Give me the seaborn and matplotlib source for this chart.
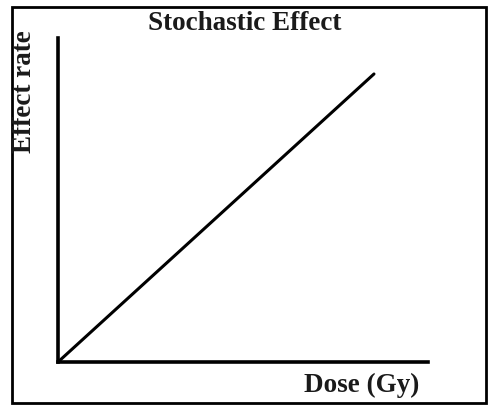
import matplotlib
matplotlib.use("Agg")
import matplotlib.pyplot as plt
import seaborn as sns
import pandas as pd
from matplotlib.patches import Rectangle

sns.set_theme(style="white")
plt.rcParams['font.family'] = ['Liberation Serif', 'DejaVu Serif']

dose = [0.0, 8.54]
effect = [0.0, 8.89]
title = "Stochastic Effect"
xlabel = "Dose (Gy)"
ylabel = "Effect rate"

df = pd.DataFrame({"dose": dose, "effect": effect})

fig = plt.figure(figsize=(4.88, 4.05), dpi=100)
ax = fig.add_axes([58/488, 1-362/405, 370/488, 324/405])
sns.lineplot(data=df, x="dose", y="effect", ax=ax, color="black", linewidth=2.2)
ax.set_xlim(0, 10)
ax.set_ylim(0, 10)
ax.set_xticks([])
ax.set_yticks([])
ax.set_xlabel("")
ax.set_ylabel("")
for s in ["top", "right"]:
    ax.spines[s].set_visible(False)
for s in ["left", "bottom"]:
    ax.spines[s].set_color("black")
    ax.spines[s].set_linewidth(2.6)

fs = 19.5
fig.text(245/488, 1-24/405, title, ha="center", va="center", fontsize=fs, fontweight="bold", color="#1a1a1a")
fig.text(25/488, 1-92/405, ylabel, ha="center", va="center", rotation=90, fontsize=fs, fontweight="bold", color="#1a1a1a")
fig.text(362/488, 1-385/405, xlabel, ha="center", va="center", fontsize=fs, fontweight="bold", color="#1a1a1a")

fig.patches.append(Rectangle((12/488, 2/405), 474/488, 396/405, transform=fig.transFigure,
                             fill=False, edgecolor="black", linewidth=2))
fig.savefig("out.png", dpi=100)
